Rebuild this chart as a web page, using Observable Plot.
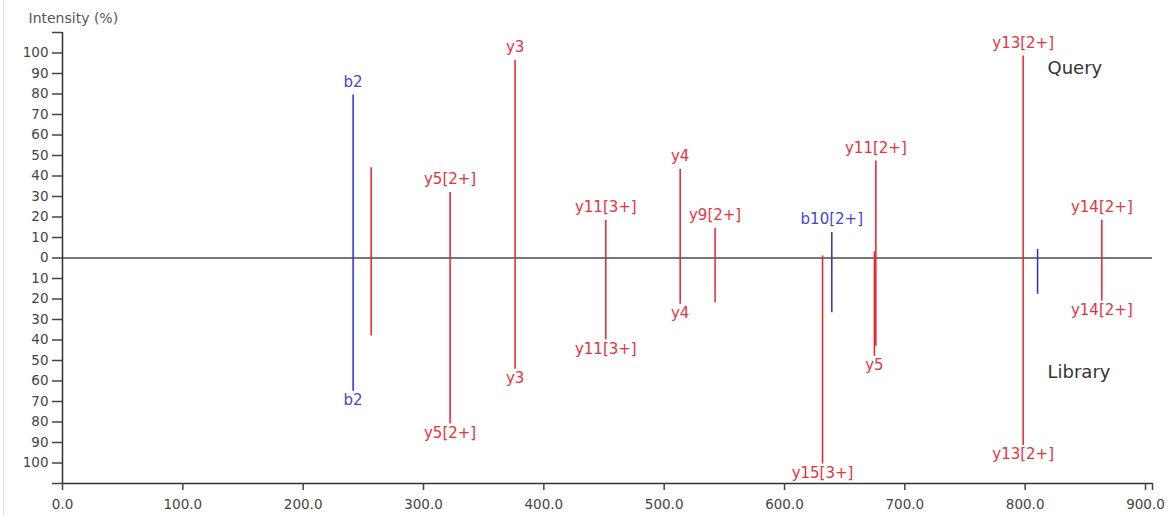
<!DOCTYPE html>
<html>
<head>
<meta charset="utf-8">
<script src="https://cdn.jsdelivr.net/npm/d3@7"></script>
<script src="https://cdn.jsdelivr.net/npm/@observablehq/plot@0.6"></script>
<style>
html, body { margin: 0; padding: 0; background: #fff; }
#chart { position: relative; width: 1172px; height: 516px; }
#border { position: absolute; left: 3px; top: 0; width: 1px; height: 516px; background: #dcdcdc; }
#chart svg { position: absolute; left: 0; top: 0; }
</style>
</head>
<body>
<div id="chart"><div id="border"></div></div>
<script>
// Peak m/z positions
const mz = [241.5, 256.5, 322.1, 376.1, 451.5, 513.3, 542.3, 631.6, 639.3, 674.7, 675.9, 798.3, 810.3, 863.7];
// Ion series (b = blue, y = red)
const series = ["b", "y", "y", "y", "y", "y", "y", "y", "b", "y", "y", "y", "b", "y"];
// Query (upward) intensities, %
const query = [79.5, 44, 32, 96.5, 18.4, 43.3, 14.5, 1, 12.5, 3, 47.3, 98.5, 4.2, 18.4];
// Library (downward) intensities, %
const library = [65, 38, 81, 54.3, 40, 22.6, 21.8, 100.5, 26.7, 48, 43, 91.5, 17.7, 21];
// Labels above query peaks
const queryLabels = ["b2", "", "y5[2+]", "y3", "y11[3+]", "y4", "y9[2+]", "", "b10[2+]", "", "y11[2+]", "y13[2+]", "", "y14[2+]"];
// Labels below library peaks
const libraryLabels = ["b2", "", "y5[2+]", "y3", "y11[3+]", "y4", "", "y15[3+]", "", "y5", "", "y13[2+]", "", "y14[2+]"];

// Axis ticks
const xTickValues = [0, 100, 200, 300, 400, 500, 600, 700, 800, 900];
const yTickValues = [-100, -90, -80, -70, -60, -50, -40, -30, -20, -10, 0, 10, 20, 30, 40, 50, 60, 70, 80, 90, 100];
const xMax = 905.8;
const yMax = 110;

const colors = {b: "#2b2be0", y: "#e8202c"};
const textColors = {b: "#4444d8", y: "#e8333f"};

const peaks = mz.map((m, i) => ({
  mz: m, series: series[i], query: query[i], library: library[i],
  qLabel: queryLabels[i], lLabel: libraryLabels[i]
}));

const chart = Plot.plot({
  width: 1172,
  height: 516,
  marginLeft: 62,
  marginRight: 20,
  marginTop: 32,
  marginBottom: 33,
  style: {fontFamily: "DejaVu Sans", background: "transparent"},
  x: {domain: [0, xMax]},
  y: {domain: [-yMax, yMax]},
  marks: [
    // zero baseline
    Plot.ruleY([0], {stroke: "#4a4a4a", strokeWidth: 1.5}),
    // query peaks (up)
    Plot.ruleX(peaks, {x: "mz", y1: 0, y2: "query", stroke: d => colors[d.series], strokeWidth: 1.5}),
    // library peaks (down)
    Plot.ruleX(peaks, {x: "mz", y1: 0, y2: d => -d.library, stroke: d => colors[d.series], strokeWidth: 1.5}),
    // labels
    Plot.text(peaks.filter(d => d.qLabel), {x: "mz", y: "query", text: "qLabel", dy: -13, fontSize: 15, fill: d => textColors[d.series]}),
    Plot.text(peaks.filter(d => d.lLabel), {x: "mz", y: d => -d.library, text: "lLabel", dy: 9, fontSize: 15, fill: d => textColors[d.series]}),
    // axis lines
    Plot.ruleX([0], {stroke: "#333", strokeWidth: 1.5}),
    Plot.ruleY([-yMax], {stroke: "#333", strokeWidth: 1.5}),
    // axes
    Plot.axisY({ticks: [...yTickValues, -yMax, yMax], tickFormat: d => Math.abs(d) === yMax ? "" : String(Math.abs(d)),
      tickSize: 10, tickPadding: 4, fontSize: 13.5, label: null, color: "#444", strokeWidth: 1.5}),
    Plot.axisX({ticks: [...xTickValues, xMax], tickFormat: d => d === xMax ? "" : d.toFixed(1),
      tickSize: 7, tickPadding: 9, fontSize: 13.5, label: null, color: "#444", strokeWidth: 1.5}),
    // titles
    Plot.text(["Intensity (%)"], {frameAnchor: "top-left", lineAnchor: "middle", text: d => d, dx: -34, dy: -14, textAnchor: "start", fontSize: 14, fill: "#555"}),
    Plot.text(["Query"], {frameAnchor: "top-right", lineAnchor: "middle", text: d => d, dx: -105, dy: 36, textAnchor: "start", fontSize: 18, fill: "#333"}),
    Plot.text(["Library"], {frameAnchor: "top-right", lineAnchor: "middle", text: d => d, dx: -105, dy: 340, textAnchor: "start", fontSize: 18, fill: "#333"})
  ]
});
document.getElementById("chart").appendChild(chart);
</script>
</body>
</html>
